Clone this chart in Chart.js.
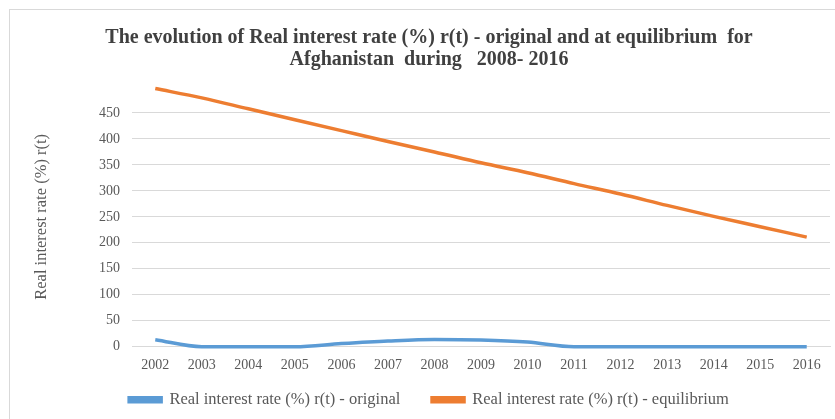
<!DOCTYPE html>
<html>
<head>
<meta charset="utf-8">
<script src="https://cdn.jsdelivr.net/npm/chart.js@4/dist/chart.umd.min.js"></script>
<style>
    body { margin: 0; background: #fff; }
    #frame {
        position: absolute; left: 9px; top: 9px;
        width: 840px; height: 420px;
        border: 1px solid #d9d9d9;
    }
    #wrap { position: absolute; left: 0; top: 0; width: 835px; height: 419px; }
</style>
</head>
<body>
<div id="frame"></div>
<div id="wrap"><canvas id="chart"></canvas></div>
<script>
'use strict';

const years = ['2002', '2003', '2004', '2005', '2006', '2007', '2008', '2009',
    '2010', '2011', '2012', '2013', '2014', '2015', '2016'];

const rateOriginal = [13.5, 0, 0, 0, 6, 11, 14, 13, 9, 0, 0, 0, 0, 0, 0];

const rateEquilibrium = [497, 479, 458, 437, 416, 395, 375, 354, 335, 314, 294, 272, 251, 231, 211];

const yTicksShown = [0, 50, 100, 150, 200, 250, 300, 350, 400, 450];

const serif = '"Liberation Serif", "Times New Roman", serif';
const gray = '#595959';

new Chart(document.getElementById('chart'), {
    type: 'line',
    data: {
        labels: years,
        datasets: [
            {
                label: 'Real interest rate (%) r(t) - original',
                data: rateOriginal,
                borderColor: '#5b9bd5',
                backgroundColor: '#5b9bd5',
                borderWidth: 3.5,
                pointRadius: 0,
                cubicInterpolationMode: 'monotone',
                clip: false,
            },
            {
                label: 'Real interest rate (%) r(t) - equilibrium',
                data: rateEquilibrium,
                borderColor: '#ed7d31',
                backgroundColor: '#ed7d31',
                borderWidth: 3.5,
                pointRadius: 0,
                cubicInterpolationMode: 'monotone',
                clip: false,
            },
        ]
    },
    options: {
        responsive: true,
        maintainAspectRatio: false,
        animation: false,
        layout: { padding: { left: 28, right: 5, top: 0, bottom: 1 } },
        plugins: {
            title: {
                display: true,
                text: ['The evolution of Real interest rate (%) r(t) - original and at equilibrium  for',
                    'Afghanistan  during   2008- 2016'],
                color: '#404040',
                font: { family: serif, size: 20, weight: 'bold', lineHeight: 1.1 },
                padding: { top: 27, bottom: 16 },
            },
            legend: {
                position: 'bottom',
                labels: {
                    color: gray,
                    font: { family: serif, size: 16.5 },
                    boxWidth: 32,
                    boxHeight: 4,
                    padding: 7,
                    // wider gap between the two legend entries
                    generateLabels: (chart) => {
                        const items = Chart.defaults.plugins.legend.labels.generateLabels(chart);
                        items[0].text += '      ';
                        return items;
                    },
                },
            },
            tooltip: { enabled: false },
        },
        scales: {
            x: {
                offset: true,
                grid: { display: false, drawTicks: false },
                border: { color: '#d9d9d9' },
                ticks: { color: gray, font: { family: serif, size: 14 }, padding: 10.5, maxRotation: 0 },
            },
            y: {
                min: 0,
                max: 500,
                border: { display: false },
                grid: {
                    drawTicks: false,
                    color: (ctx) => (ctx.tick && yTicksShown.includes(ctx.tick.value)) ? '#d9d9d9' : 'rgba(0,0,0,0)',
                },
                ticks: {
                    stepSize: 50,
                    padding: 12,
                    color: gray,
                    font: { family: serif, size: 14 },
                    callback: (value) => yTicksShown.includes(value) ? value : '',
                },
                title: {
                    display: true,
                    text: 'Real interest rate (%) r(t)',
                    color: gray,
                    font: { family: serif, size: 16.5 },
                    padding: { top: 4, bottom: 0 },
                },
                afterFit: (scale) => { scale.width = 104; },
            },
        },
    },
});
</script>
</body>
</html>
